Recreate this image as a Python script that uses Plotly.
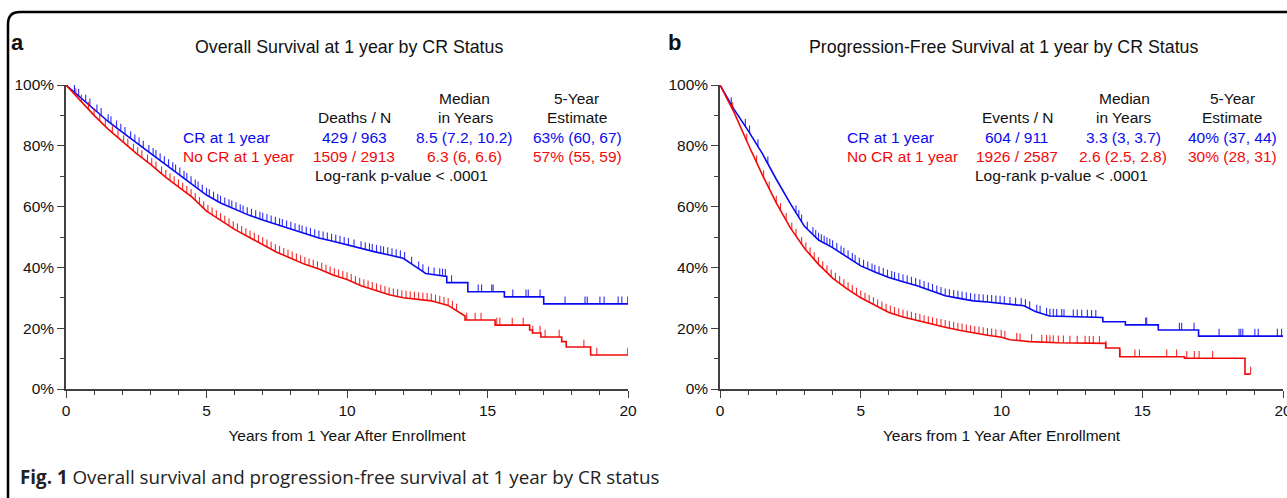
import numpy as np
import plotly.graph_objects as go

# ---------------- data ----------------
groups = ["CR at 1 year", "No CR at 1 year"]

# Panel a: overall survival (years, survival fraction)
os_cr_t = [0, 0.5, 1, 1.5, 2, 2.5, 3, 3.5, 4, 4.5, 5, 5.5, 6, 6.5, 7, 7.5, 8, 8.5, 9, 9.5,
           10, 10.5, 11, 11.5, 12, 12.4, 12.8, 13.55, 13.55, 14.3, 14.3, 15.6, 15.6, 17.0, 17.0, 20]
os_cr_s = [1.0, 0.96, 0.92, 0.88, 0.845, 0.81, 0.775, 0.742, 0.708, 0.672, 0.638, 0.612, 0.592,
           0.572, 0.556, 0.541, 0.526, 0.511, 0.497, 0.486, 0.474, 0.462, 0.451, 0.441, 0.43,
           0.405, 0.38, 0.37, 0.35, 0.35, 0.32, 0.32, 0.303, 0.303, 0.28, 0.28]
os_no_t = [0, 0.5, 1, 1.5, 2, 2.5, 3, 3.5, 4, 4.5, 5, 5.5, 6, 6.5, 7, 7.5, 8, 8.5, 9, 9.5, 10,
           10.5, 11, 11.5, 12, 13, 13.6, 14.0, 14.2, 14.2, 15.27, 15.27, 16.5, 16.5, 16.6, 16.6,
           16.9, 16.9, 17.64, 17.64, 17.8, 17.8, 18.67, 18.67, 20]
os_no_s = [1.0, 0.95, 0.90, 0.855, 0.815, 0.775, 0.74, 0.70, 0.665, 0.63, 0.585, 0.555, 0.525,
           0.50, 0.475, 0.45, 0.43, 0.41, 0.395, 0.375, 0.36, 0.34, 0.325, 0.31, 0.30, 0.29,
           0.275, 0.25, 0.24, 0.227, 0.227, 0.21, 0.21, 0.194, 0.194, 0.184, 0.184, 0.171, 0.171,
           0.156, 0.156, 0.138, 0.138, 0.112, 0.112]

# Panel b: progression-free survival
pfs_cr_t = [0, 0.25, 0.5, 1, 1.5, 2, 2.5, 3, 3.5, 4, 4.5, 5, 5.5, 6, 6.5, 7, 7.5, 8, 8.5, 9,
            9.5, 10, 10.8, 11.2, 11.7, 13.6, 13.6, 14.4, 14.4, 15.57, 15.57, 17.0, 17.0, 20]
pfs_cr_s = [1.0, 0.96, 0.92, 0.85, 0.775, 0.69, 0.61, 0.535, 0.49, 0.465, 0.435, 0.405, 0.385,
            0.367, 0.353, 0.34, 0.323, 0.307, 0.298, 0.29, 0.286, 0.282, 0.274, 0.255, 0.24,
            0.235, 0.221, 0.221, 0.211, 0.211, 0.194, 0.194, 0.174, 0.174]
pfs_no_t = [0, 0.25, 0.5, 1, 1.5, 2, 2.5, 3, 3.5, 4, 4.5, 5, 5.5, 6, 6.5, 7, 7.5, 8, 8.5, 9,
            9.5, 10, 10.3, 11, 12, 13.7, 13.7, 14.2, 14.2, 16.5, 16.5, 18.65, 18.65, 18.85]
pfs_no_s = [1.0, 0.955, 0.91, 0.805, 0.705, 0.612, 0.53, 0.463, 0.41, 0.365, 0.33, 0.30, 0.275,
            0.252, 0.237, 0.225, 0.213, 0.203, 0.193, 0.184, 0.177, 0.17, 0.162, 0.156, 0.152,
            0.15, 0.135, 0.135, 0.106, 0.106, 0.101, 0.101, 0.049, 0.049]

# censoring times (tick marks)
os_cr_cens = [0.3, 0.45, 0.7, 0.85, 1.1, 1.25, 1.5, 1.6, 1.8, 1.95, 2.1, 2.3, 2.45, 2.6, 2.75,
              2.95, 3.1, 3.2, 3.35, 3.5, 3.65, 3.8, 3.9, 4.05, 4.2, 4.3, 4.45, 4.6, 4.7, 4.85,
              5.0, 5.1, 5.25, 5.4, 5.5, 5.65, 5.8, 5.9, 6.05, 6.2, 6.3, 6.45, 6.6, 6.75, 6.9,
              7.0, 7.15, 7.3, 7.45, 7.6, 7.7, 7.85, 8.0, 8.15, 8.3, 8.4, 8.55, 8.7, 8.85, 9.0,
              9.15, 9.3, 9.45, 9.6, 9.75, 9.9, 10.05, 10.25, 10.5, 10.65, 10.8, 10.9, 11.05,
              11.2, 11.3, 11.45, 11.6, 11.75, 11.9, 12.05, 12.3, 12.55, 12.7, 12.9, 13.1, 13.3,
              13.4, 13.5, 13.72, 14.67, 14.79, 15.15, 15.2, 15.9, 16.37, 16.45, 16.87, 17.76,
              18.47, 18.55, 19.0, 19.15, 19.65, 19.78, 19.99]
os_no_cens = [0.35, 0.55, 0.8, 1.0, 1.2, 1.4, 1.65, 1.85, 2.05, 2.2, 2.4, 2.55, 2.7, 2.9, 3.05,
              3.2, 3.4, 3.55, 3.7, 3.85, 4.0, 4.15, 4.3, 4.45, 4.6, 4.75, 4.9, 5.05, 5.2, 5.35,
              5.5, 5.65, 5.8, 5.95, 6.1, 6.25, 6.4, 6.55, 6.7, 6.85, 7.0, 7.15, 7.3, 7.45, 7.6,
              7.75, 7.9, 8.05, 8.2, 8.35, 8.5, 8.65, 8.8, 8.95, 9.1, 9.25, 9.4, 9.55, 9.7, 9.85,
              10.0, 10.15, 10.3, 10.45, 10.6, 10.75, 10.9, 11.05, 11.2, 11.35, 11.5, 11.65,
              11.8, 11.95, 12.1, 12.25, 12.4, 12.55, 12.7, 12.85, 13.0, 13.15, 13.3, 13.45,
              13.6, 13.75, 13.9, 14.26, 14.56, 14.77, 15.33, 15.44, 15.88, 16.27, 16.61,
              16.87, 17.05, 17.55, 18.43, 18.89, 19.99]
pfs_cr_cens = [0.4, 0.9, 1.05, 1.35, 1.7, 2.7, 2.8, 2.9, 3.1, 3.3, 3.4, 3.5, 3.6, 3.7, 3.8,
               3.9, 4.0, 4.15, 4.3, 4.4, 4.55, 4.7, 4.8, 4.95, 5.1, 5.25, 5.4, 5.5, 5.65, 5.8,
               5.95, 6.1, 6.2, 6.35, 6.5, 6.65, 6.8, 6.95, 7.1, 7.25, 7.4, 7.55, 7.7, 7.85, 8.0,
               8.15, 8.3, 8.45, 8.6, 8.75, 8.9, 9.05, 9.2, 9.35, 9.5, 9.65, 9.8, 9.95, 10.1,
               10.3, 10.5, 10.7, 10.85, 11.0, 11.25, 11.37, 11.6, 11.72, 11.84, 11.96, 12.14,
               12.22, 12.55, 12.69, 12.85, 13.05, 13.2, 13.35, 15.12, 15.16, 16.32, 16.4,
               16.84, 17.73, 18.44, 18.5, 18.57, 19.0, 19.12, 19.8, 19.95]
pfs_no_cens = [0.45, 0.95, 1.3, 1.55, 1.75, 2.0, 2.15, 2.35, 2.55, 2.7, 2.9, 3.05, 3.2, 3.35,
               3.5, 3.65, 3.8, 3.95, 4.1, 4.25, 4.4, 4.55, 4.7, 4.85, 5.0, 5.15, 5.3, 5.45,
               5.6, 5.75, 5.9, 6.05, 6.2, 6.35, 6.5, 6.65, 6.8, 6.95, 7.1, 7.25, 7.4, 7.55, 7.7,
               7.85, 8.0, 8.15, 8.3, 8.45, 8.6, 8.75, 8.9, 9.05, 9.2, 9.35, 9.5, 9.65, 9.8,
               9.99, 10.12, 10.54, 10.66, 11.07, 11.43, 11.6, 11.72, 11.84, 12.02, 12.2, 12.43,
               12.69, 12.97, 13.12, 13.26, 13.48, 13.71, 14.21, 14.74, 14.9, 15.87, 16.22,
               16.58, 16.85, 17.02, 17.5, 18.85]

# table text
os_counts = ["429 / 963", "1509 / 2913"]
os_medians = ["8.5 (7.2, 10.2)", "6.3 (6, 6.6)"]
os_est = ["63% (60, 67)", "57% (55, 59)"]
pfs_counts = ["604 / 911", "1926 / 2587"]
pfs_medians = ["3.3 (3, 3.7)", "2.6 (2.5, 2.8)"]
pfs_est = ["40% (37, 44)", "30% (28, 31)"]
pvalue_text = "Log-rank p-value < .0001"

titles = ["Overall Survival at 1 year by CR Status",
          "Progression-Free Survival at 1 year by CR Status"]
x_title = "Years from 1 Year After Enrollment"
y_ticks = [0, 0.2, 0.4, 0.6, 0.8, 1.0]
y_ticklabels = ["0%", "20%", "40%", "60%", "80%", "100%"]
x_ticks = [0, 5, 10, 15, 20]

# ---------------- styling ----------------
W, H = 1287, 498
BLUE = "#0a0af0"
RED = "#f00a0a"
FONT = "Liberation Sans, Arial, sans-serif"
FS = 15.5
AXC = "#404040"


def px(x):
    return x / W


def py(y):
    return (H - y) / H


fig = go.Figure()


def add_curve(t, s, cens, color, xa, ya):
    fig.add_trace(go.Scatter(x=t, y=s, mode="lines", line=dict(color=color, width=1.6),
                             xaxis=xa, yaxis=ya, showlegend=False, hoverinfo="skip"))
    cy = np.interp(cens, t, s)
    xs, ys = [], []
    for c, v in zip(cens, cy):
        xs += [c, c, None]
        ys += [v, v + 0.024, None]
    fig.add_trace(go.Scatter(x=xs, y=ys, mode="lines", line=dict(color=color, width=1.1),
                             xaxis=xa, yaxis=ya, showlegend=False, hoverinfo="skip",
                             opacity=0.85))


add_curve(os_cr_t, os_cr_s, os_cr_cens, BLUE, "x", "y")
add_curve(os_no_t, os_no_s, os_no_cens, RED, "x", "y")
add_curve(pfs_cr_t, pfs_cr_s, pfs_cr_cens, BLUE, "x2", "y2")
add_curve(pfs_no_t, pfs_no_s, pfs_no_cens, RED, "x2", "y2")

ydom = [py(389), py(85)]
xdom1 = [px(66), px(628)]
xdom2 = [px(720), px(1283)]

xcommon = dict(range=[0, 20], tickvals=x_ticks, ticks="outside", ticklen=7, tickwidth=1.4,
               tickcolor=AXC, showline=True, linecolor=AXC, linewidth=1.5, showgrid=False,
               zeroline=False, tickfont=dict(family=FONT, size=FS, color="#111"),
               minor=dict(dtick=1, ticks="outside", ticklen=4, tickcolor=AXC, tickwidth=1.2),
               title=dict(text=x_title, font=dict(family=FONT, size=FS, color="#111"),
                          standoff=12),
               ticklabeloverflow="allow",
               automargin=False, fixedrange=True)
ycommon = dict(range=[0, 1], tickvals=y_ticks, ticktext=y_ticklabels, ticks="outside",
               ticklen=7, tickwidth=1.4, tickcolor=AXC, showline=True, linecolor=AXC,
               linewidth=1.5, showgrid=False, zeroline=False,
               tickfont=dict(family=FONT, size=FS, color="#111"),
               minor=dict(dtick=0.1, tick0=0, ticks="outside", ticklen=4, tickcolor=AXC,
                          tickwidth=1.2),
               automargin=False, fixedrange=True)

fig.update_layout(
    width=W, height=H, margin=dict(l=0, r=0, t=0, b=0, pad=0), autosize=False,
    paper_bgcolor="white", plot_bgcolor="white",
    xaxis=dict(domain=xdom1, anchor="y", **xcommon),
    yaxis=dict(domain=ydom, anchor="x", **ycommon),
    xaxis2=dict(domain=xdom2, anchor="y2", **xcommon),
    yaxis2=dict(domain=ydom, anchor="x2", **ycommon),
    font=dict(family=FONT, size=FS, color="#111"),
)

ann = []


def text(x, y, s, color="#111", anchor="center", size=FS, bold=False):
    ann.append(dict(x=px(x), y=py(y), xref="paper", yref="paper", text=(f"<b>{s}</b>" if bold else s),
                    showarrow=False, xanchor=anchor, yanchor="middle",
                    font=dict(family=FONT, size=size, color=color)))


TS = 17.8
# panel a
text(349, 47, titles[0], size=TS)
text(9, 42, "a", anchor="left", size=22, bold=True)
text(464, 98, "Median"); text(576, 98, "5-Year")
text(354, 117, "Deaths / N"); text(465, 117, "in Years"); text(577, 117, "Estimate")
for i, (col, yy) in enumerate([(BLUE, 137), (RED, 156)]):
    text(181, yy, groups[i], col, anchor="left")
    text(354, yy, os_counts[i], col)
    text(464, yy, os_medians[i], col)
    text(577, yy, os_est[i], col)
text(401, 176, pvalue_text)

# panel b
text(1003, 47, titles[1], size=TS)
text(666, 42, "b", anchor="left", size=22, bold=True)
text(1124, 98, "Median"); text(1232, 98, "5-Year")
text(1018, 117, "Events / N"); text(1123, 117, "in Years"); text(1232, 117, "Estimate")
for i, (col, yy) in enumerate([(BLUE, 137), (RED, 156)]):
    text(845, yy, groups[i], col, anchor="left")
    text(1017, yy, pfs_counts[i], col)
    text(1123, yy, pfs_medians[i], col)
    text(1232, yy, pfs_est[i], col)
text(1061, 176, pvalue_text)

# caption
ann.append(dict(x=px(18), y=py(477), xref="paper", yref="paper",
                text="<b>Fig. 1</b> Overall survival and progression-free survival at 1 year by CR status",
                showarrow=False, xanchor="left", yanchor="middle",
                font=dict(family="Open Sans, Liberation Sans, sans-serif", size=18.8, color="#222")))

fig.update_layout(annotations=ann)

# rounded frame
x0, yt = px(8), py(12)
rx, ry = 12 / W, 12 / H
fig.add_shape(type="path", xref="paper", yref="paper",
              path=f"M {x0},{py(500)} L {x0},{yt - ry} Q {x0},{yt} {x0 + rx},{yt} L {px(1300)},{yt}",
              line=dict(color="black", width=2.5))

fig.write_html("out.html", config={"displayModeBar": False},
               post_script="document.body.style.margin='0px';document.body.style.overflow='hidden';")
